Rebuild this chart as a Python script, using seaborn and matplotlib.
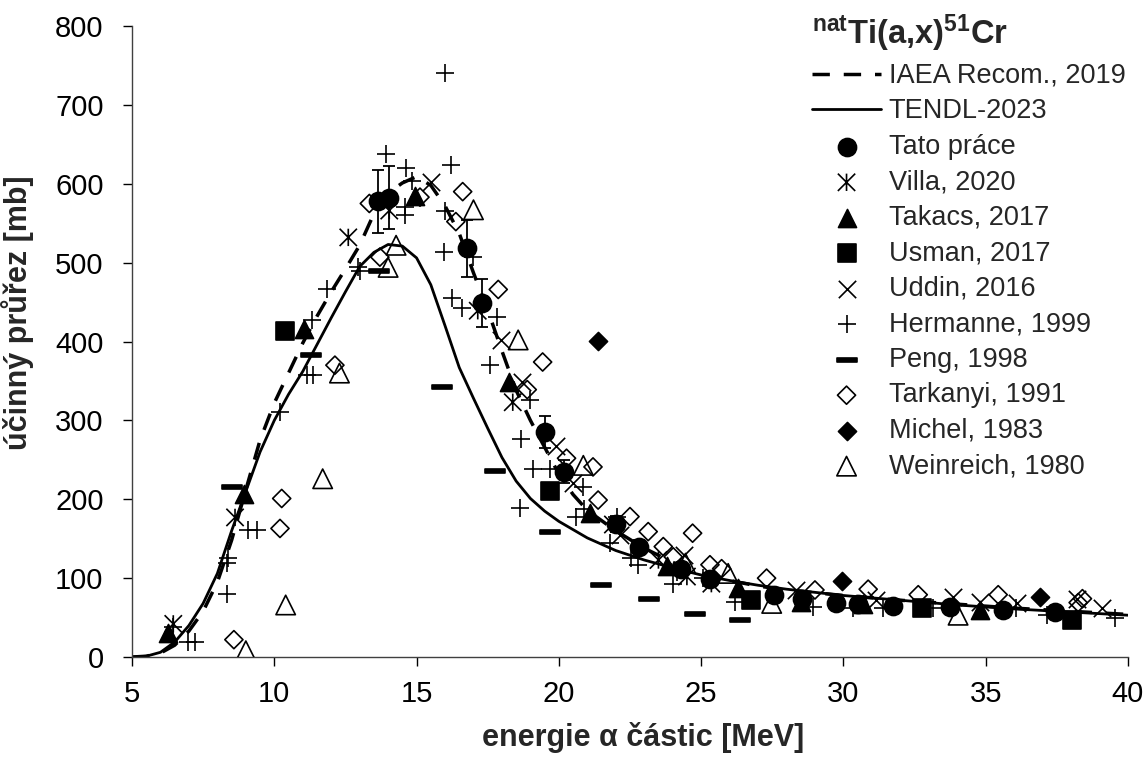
import numpy as np
import pandas as pd
import matplotlib
matplotlib.use('Agg')
import matplotlib.pyplot as plt
from matplotlib.path import Path
import seaborn as sns

# Evaluated curves
iaea_e = [5, 5.5, 6, 6.5, 7, 7.5, 8, 8.5, 9, 9.5, 10, 10.5, 11, 11.5, 12, 12.5, 13, 13.5, 14, 14.5,
          15, 15.5, 16, 16.5, 17, 17.5, 18, 18.5, 19, 19.5, 20, 20.5, 21, 22, 23, 24, 25, 26, 27, 28,
          30, 32, 34, 36, 38, 40]
iaea_s = [0, 1, 5, 15, 33, 58, 95, 148, 212, 275, 322, 360, 398, 432, 463, 492, 522, 562, 588, 601,
          609, 598, 572, 537, 487, 440, 388, 338, 300, 266, 232, 206, 186, 160, 138, 120, 106, 97, 90, 85,
          78, 72, 67, 62, 58, 54]

tendl_e = [5, 5.5, 6, 6.5, 7, 7.5, 8, 8.5, 9, 9.5, 10, 10.5, 11, 11.5, 12, 12.5, 13, 13.5, 14, 14.5,
           15, 15.5, 16, 16.5, 17, 17.5, 18, 18.5, 19, 19.5, 20, 21, 22, 23, 24, 25, 26, 27, 28, 29,
           30, 32, 34, 36, 38, 40]
tendl_s = [0, 1, 6, 19, 40, 68, 106, 160, 210, 260, 300, 333, 362, 396, 430, 463, 495, 513, 523, 521,
           506, 472, 420, 367, 328, 290, 253, 223, 201, 185, 172, 151, 135, 123, 113, 104, 97, 91, 86, 82,
           78, 72, 66, 61, 57, 53]

# Experimental data
tato_e = [13.63, 14.03, 16.76, 17.29, 19.51, 20.18, 22.0, 22.83, 24.31, 25.31, 27.56, 28.53, 29.74,
          30.52, 31.75, 33.74, 35.6, 37.43]
tato_s = [578, 582, 518, 449, 285, 235, 169, 140, 112, 99, 79, 74, 68, 67, 65, 63, 59, 57]
tato_err = [40, 40, 36, 30, 20, 15, 10, 8, 6, 5, 4, 4, 4, 4, 3, 3, 3, 3]

villa_e = [6.45, 8.62, 12.6, 14.04, 17.15, 18.38, 21.9, 23.5, 24.5, 25.36]
villa_s = [42, 177, 532, 566, 439, 323, 168, 123, 102, 93]

takacs_e = [6.28, 8.95, 11.04, 14.94, 18.26, 21.1, 23.8, 26.3, 28.5, 30.7, 34.8]
takacs_s = [31, 207, 416, 585, 349, 183, 116, 88, 70, 67, 60]

usman_e = [10.37, 19.69, 26.77, 32.75, 38.05]
usman_s = [413, 210, 72, 62, 47]

uddin_e = [15.5, 17.95, 18.7, 19.9, 20.5, 22.15, 24.4, 28.35, 31.16, 33.86, 34.8, 36.1, 38.2, 39.1]
uddin_s = [602, 402, 349, 267, 220, 155, 129, 85, 72, 76, 70, 68, 74, 62]

hermanne_e = [6.45, 6.98, 7.21, 8.33, 8.38, 8.33, 9.09, 9.38, 10.2, 11.14, 11.37, 11.31, 11.84, 12.95,
              13.0, 13.92, 14.63, 14.83, 14.59, 14.59, 16.0, 16.2, 16.0, 15.97, 17.0, 16.23, 16.58,
              17.81, 17.58, 18.98, 18.66, 18.63, 19.1, 19.69, 20.6, 20.86, 20.9, 22.03, 21.8, 22.55,
              22.79, 24.0, 24.14, 25.07, 26.19, 28.94, 30.35, 31.4, 33.16, 36.08, 37.14, 39.54]
hermanne_s = [38, 19, 19, 119, 125, 80, 161, 161, 311, 357, 357, 427, 467, 495,
              490, 638, 620, 604, 570, 560, 740, 624, 566, 514, 507, 455, 442,
              431, 370, 326, 277, 189, 239, 239, 178, 215, 188, 178, 144, 125,
              117, 93, 108, 100, 70, 64, 62, 62, 62, 62, 53, 49]

peng_e = [8.5, 11.28, 13.69, 15.88, 17.77, 19.69, 21.47, 23.18, 24.78, 26.36]
peng_s = [216, 383, 489, 342, 236, 159, 91, 74, 54, 47]

tarkanyi_e = [8.58, 10.26, 10.2, 12.13, 13.34, 13.71, 15.12, 16.62, 16.38, 17.87, 18.89, 19.43, 20.27,
              21.2, 21.38, 22.5, 23.14, 23.67, 24.02, 24.7, 25.31, 25.72, 27.3, 29.0, 30.87, 32.63,
              35.44, 38.4, 38.25]
tarkanyi_s = [22, 201, 163, 370, 575, 507, 583, 590, 552, 466, 339, 374, 252,
              241, 199, 178, 159, 140, 127, 157, 117, 112, 100, 85, 86, 79,
              79, 74, 69]

michel_e = [21.38, 29.94, 36.9]
michel_s = [401, 97, 76]

weinreich_e = [9.0, 10.4, 11.7, 12.29, 14.0, 14.28, 17.0, 18.57, 20.86, 24.45, 25.95, 27.48, 34.03]
weinreich_s = [8, 66, 226, 360, 494, 522, 567, 402, 243, 119, 106, 68, 53]

sns.set_theme(style='ticks')
plt.rcParams['font.family'] = ['Liberation Sans', 'DejaVu Sans']
plt.rcParams['mathtext.fontset'] = 'custom'
plt.rcParams['mathtext.rm'] = 'Liberation Sans'
plt.rcParams['mathtext.bf'] = 'Liberation Sans:bold'

# Custom markers: Excel style star (x with vertical bar) and thick dash
star = Path([(-0.5, -0.5), (0.5, 0.5), (-0.5, 0.5), (0.5, -0.5), (0, -0.5), (0, 0.5)],
            [Path.MOVETO, Path.LINETO, Path.MOVETO, Path.LINETO, Path.MOVETO, Path.LINETO])
dash = Path([(-1, -0.24), (1, -0.24), (1, 0.24), (-1, 0.24), (-1, -0.24)],
            [Path.MOVETO, Path.LINETO, Path.LINETO, Path.LINETO, Path.CLOSEPOLY])

fig = plt.figure(figsize=(11.47, 7.6), dpi=100)
ax = fig.add_axes([0.1151, 0.1355, 0.8683, 0.8303])

sns.lineplot(x=iaea_e, y=iaea_s, ax=ax, color='black', lw=2.5, linestyle=(0, (5, 4)),
             label='IAEA Recom., 2019')
sns.lineplot(x=tendl_e, y=tendl_s, ax=ax, color='black', lw=2.0, label='TENDL-2023')

ax.errorbar(tato_e, tato_s, yerr=tato_err, fmt='none', ecolor='black', elinewidth=1.3,
            capsize=4, capthick=1.3, zorder=3)

series = [
    (tato_e, tato_s, 'Tato práce', 'o', 169, 'black', 'black'),
    (villa_e, villa_s, 'Villa, 2020', star, 156, 'none', 'black'),
    (takacs_e, takacs_s, 'Takacs, 2017', '^', 169, 'black', 'black'),
    (usman_e, usman_s, 'Usman, 2017', 's', 180, 'black', 'black'),
    (uddin_e, uddin_s, 'Uddin, 2016', 'x', 156, 'black', 'black'),
    (hermanne_e, hermanne_s, 'Hermanne, 1999', '+', 169, 'black', 'black'),
    (peng_e, peng_s, 'Peng, 1998', dash, 210, 'black', 'black'),
    (tarkanyi_e, tarkanyi_s, 'Tarkanyi, 1991', 'D', 85, 'none', 'black'),
    (michel_e, michel_s, 'Michel, 1983', 'D', 85, 'black', 'black'),
    (weinreich_e, weinreich_s, 'Weinreich, 1980', '^', 196, 'none', 'black'),
]
for xs, ys, lab, mk, size, fc, ec in series:
    sns.scatterplot(x=xs, y=ys, ax=ax, marker=mk, s=size, color=fc, facecolors=fc,
                    edgecolor=ec, linewidths=1.2, label=lab, zorder=4)

ax.set_xlim(5, 40)
ax.set_ylim(0, 800)
ax.set_xticks(range(5, 41, 5))
ax.set_yticks(range(0, 801, 100))
ax.tick_params(axis='both', direction='out', length=6.5, width=1, colors='black',
               labelsize=21)
ax.tick_params(axis='y', pad=14)
ax.tick_params(axis='x', pad=10)
for side in ['top', 'right']:
    ax.spines[side].set_visible(False)
for side in ['left', 'bottom']:
    ax.spines[side].set_color('#404040')
    ax.spines[side].set_linewidth(1)

ax.set_xlabel('energie α částic [MeV]', fontsize=22, fontweight='bold')
ax.set_ylabel('účinný průřez [mb]', fontsize=22, fontweight='bold')
ax.xaxis.set_label_coords(0.513, -0.103)
ax.yaxis.set_label_coords(-0.098, 0.546)

handles, labels = ax.get_legend_handles_labels()
leg = ax.legend(handles, labels, loc='upper left', bbox_to_anchor=(812 / 1147, 1 - 12 / 760),
                bbox_transform=fig.transFigure, frameon=False, fontsize=19.5,
                title=r'$\mathbf{^{nat}Ti(a{,}x)^{51}Cr}$', title_fontsize=23.5,
                alignment='left', handlelength=2.55, handletextpad=0.28, labelspacing=0.35,
                borderpad=0, borderaxespad=0)

fig.savefig('out.png', dpi=100)
